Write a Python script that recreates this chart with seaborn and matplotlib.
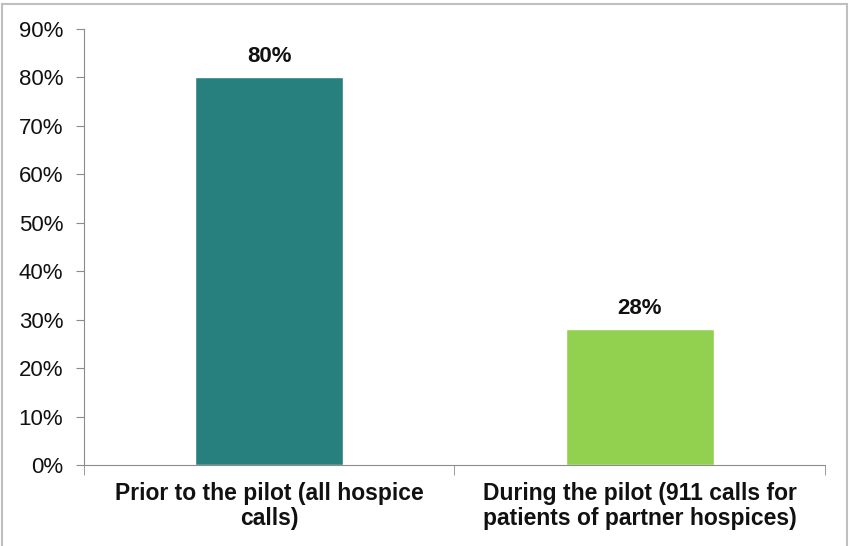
import numpy as np
import pandas as pd
import matplotlib
matplotlib.use("Agg")
import matplotlib.pyplot as plt
import seaborn as sns
from matplotlib.ticker import PercentFormatter, FixedLocator
from matplotlib.patches import Rectangle

# data
categories = ["Prior to the pilot (all hospice\ncalls)",
              "During the pilot (911 calls for\npatients of partner hospices)"]
values = [0.80, 0.28]
bar_colors = ["#277F7E", "#92D050"]

df = pd.DataFrame({"category": categories, "value": values})

sns.set_style("white")
plt.rcParams["font.family"] = ["Liberation Sans", "DejaVu Sans"]

fig = plt.figure(figsize=(8.5, 5.46), dpi=100)
ax = fig.add_axes([0.0988, 0.1484, 0.8718, 0.7985])

sns.barplot(data=df, x="category", y="value", hue="category",
            palette=bar_colors, width=0.4, legend=False, ax=ax,
            saturation=1)

ax.set_ylim(0, 0.9)
ax.set_xlim(-0.5, 1.5)
ax.yaxis.set_major_locator(FixedLocator(np.arange(0, 0.91, 0.1)))
ax.yaxis.set_major_formatter(PercentFormatter(1.0, decimals=0))
ax.set_xlabel("")
ax.set_ylabel("")

# value labels
for i, v in enumerate(values):
    ax.text(i, v + 0.022, f"{v:.0%}", ha="center", va="bottom",
            fontsize=16, fontweight="bold", color="#111111")

# spines / ticks
for s in ["top", "right"]:
    ax.spines[s].set_visible(False)
ax.spines["left"].set_color("#8c8c8c")
ax.spines["bottom"].set_color("#8c8c8c")
ax.tick_params(axis="y", which="major", left=True, length=6, color="#8c8c8c",
               labelsize=16, pad=9, labelcolor="#111111")
ax.tick_params(axis="x", which="major", bottom=False, labelsize=16.5, pad=9,
               labelcolor="#111111")
ax.set_xticks([-0.5, 0.5, 1.5], minor=True)
ax.tick_params(axis="x", which="minor", bottom=True, length=7, color="#8c8c8c")
for lbl in ax.get_xticklabels():
    lbl.set_fontweight("bold")
    lbl.set_linespacing(1.08)

# outer frame
fig.patches.append(Rectangle((0.002, -0.01), 0.995, 1.003, transform=fig.transFigure,
                             fill=False, edgecolor="#bfbfbf", linewidth=1.5))

fig.savefig("out.png", dpi=100)
